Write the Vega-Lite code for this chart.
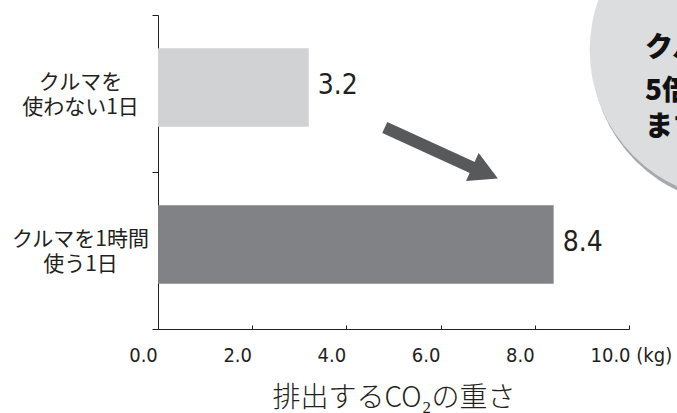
{
  "$schema": "https://vega.github.io/schema/vega-lite/v6.json",
  "width": 471,
  "height": 314,
  "autosize": {"type": "none"},
  "padding": {"left": 158, "top": 15, "right": 48, "bottom": 84},
  "background": "white",
  "config": {"view": {"stroke": null}, "font": "Noto Sans CJK JP"},
  "datasets": {
    "bars": [
      {"category": "クルマを\n使わない1日", "co2": 3.2},
      {"category": "クルマを1時間\n使う1日", "co2": 8.4}
    ],
    "bubble": [{"x": 12.35, "pos": 35}],
    "bubbleText": [
      {"line": "クルマを使うと", "x": 10.34, "pos": 34},
      {"line": "5倍以上にもなり", "x": 10.34, "pos": 77},
      {"line": "ます", "x": 10.34, "pos": 112.5}
    ],
    "arrow": [{"x": 4.815, "pos": 112.5, "x2": 6.79, "pos2": 155}],
    "arrowHead": [{"x": 6.945, "pos": 157.8}]
  },
  "resolve": {
    "scale": {"x": "independent", "y": "independent", "color": "independent"},
    "axis": {"x": "independent", "y": "independent"}
  },
  "layer": [
    {
      "data": {"name": "bars"},
      "encoding": {
        "y": {
          "field": "category",
          "type": "nominal",
          "sort": null,
          "scale": {"paddingInner": 0, "paddingOuter": 0},
          "axis": {
            "title": null,
            "tickBand": "extent",
            "tickSize": 6,
            "tickColor": "#231f20",
            "domainColor": "#231f20",
            "labelExpr": "isValid(datum.value) ? split(datum.value, '\\n') : ''",
            "labelAlign": "center",
            "labelPadding": 72,
            "labelFont": "Noto Sans CJK JP",
            "labelFontSize": 21,
            "labelColor": "#231f20",
            "labelLineHeight": 25,
            "labelOffset": -11,
            "labelLimit": 300
          }
        },
        "x": {
          "field": "co2",
          "type": "quantitative",
          "scale": {"domain": [0, 10], "nice": false, "zero": true},
          "axis": {
            "title": "排出するCO₂の重さ",
            "values": [0, 2, 4, 6, 8, 10],
            "grid": false,
            "tickSize": -4,
            "tickColor": "#231f20",
            "domainColor": "#231f20",
            "labelExpr": "datum.value == 10 ? '10.0 (kg)' : format(datum.value, '.1f')",
            "labelAlign": {"condition": {"test": "datum.value == 10", "value": "left"}, "value": "center"},
            "labelOffset": {"condition": {"test": "datum.value == 10", "value": -39}, "value": -15},
            "labelFlush": false,
            "labelOverlap": false,
            "labelFont": "DejaVu Sans Condensed",
            "labelFontSize": 20,
            "labelColor": "#231f20",
            "labelPadding": 20,
            "titleFont": "Noto Sans CJK JP",
            "titleFontSize": 28,
            "titleFontWeight": 300,
            "titleColor": "#231f20",
            "titlePadding": 19
          }
        }
      },
      "layer": [
        {
          "mark": {"type": "bar", "height": {"band": 0.5}, "yOffset": -6},
          "encoding": {
            "color": {
              "field": "category",
              "type": "nominal",
              "sort": null,
              "scale": {"range": ["#d1d2d4", "#808285"]},
              "legend": null
            }
          }
        },
        {
          "mark": {
            "type": "text",
            "align": "left",
            "baseline": "middle",
            "dx": 9,
            "yOffset": -8,
            "font": "DejaVu Sans Condensed",
            "fontSize": 28,
            "color": "#231f20"
          },
          "encoding": {
            "text": {"field": "co2", "type": "quantitative", "format": ".1f"}
          }
        }
      ]
    },
    {
      "encoding": {
        "x": {"field": "x", "type": "quantitative", "scale": {"domain": [0, 10], "nice": false, "zero": false}, "axis": null},
        "y": {"field": "pos", "type": "quantitative", "scale": {"domain": [0, 314], "reverse": true, "nice": false, "zero": false}, "axis": null}
      },
      "layer": [
        {
          "data": {"name": "bubble"},
          "mark": {"type": "point", "shape": "circle", "filled": true, "opacity": 1, "size": 90000, "color": "#a7a9ac", "xOffset": 2, "yOffset": 5}
        },
        {
          "data": {"name": "bubble"},
          "mark": {"type": "point", "shape": "circle", "filled": true, "opacity": 1, "size": 90000, "color": "#dcddde"}
        },
        {
          "data": {"name": "bubbleText"},
          "mark": {"type": "text", "align": "left", "baseline": "middle", "font": "Noto Sans CJK JP", "fontWeight": 900, "fontSize": 28, "color": "#111111"},
          "encoding": {"text": {"field": "line", "type": "nominal"}}
        },
        {
          "data": {"name": "arrow"},
          "mark": {"type": "rule", "strokeWidth": 12, "color": "#58595b", "strokeCap": "butt"},
          "encoding": {
            "x2": {"field": "x2"},
            "y2": {"field": "pos2"}
          }
        },
        {
          "data": {"name": "arrowHead"},
          "mark": {"type": "point", "shape": "M-1,-1.1L1,0L-1,1.1Z", "size": 784, "angle": 24.2, "filled": true, "opacity": 1, "color": "#58595b"}
        }
      ]
    }
  ]
}
